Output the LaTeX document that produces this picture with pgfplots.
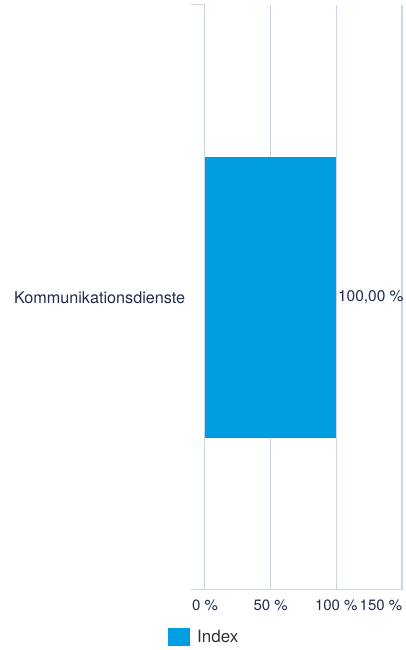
\documentclass[border=0pt]{standalone}
\usepackage{fontspec}
\setmainfont{TeX Gyre Heros}
\usepackage{pgfplots}
\pgfplotsset{compat=1.18}
\definecolor{barblue}{HTML}{009EE0}
\definecolor{gridcol}{HTML}{CAD5E8}
\definecolor{txt}{HTML}{1F2D4F}
\begin{document}
\begin{tikzpicture}
\begin{axis}[
  at={(0,0)}, anchor=south west,
  scale only axis,
  width=197pt, height=585pt,
  xmin=0, xmax=150,
  ymin=-0.5, ymax=0.5,
  xbar, bar width=280pt,
  axis line style={draw=none},
  xtick={0,50,100},
  xticklabels={0 \%, 50 \%, 100 \%},
  extra x ticks={150},
  extra x tick labels={150 \%},
  extra x tick style={xticklabel style={xshift=-21pt}, grid=major},
  xmajorgrids,
  grid style={draw=gridcol, line width=1pt},
  major x tick style={draw=none},
  xticklabel style={font=\fontsize{15}{18}\selectfont, text=txt, yshift=-6pt},
  ytick={0},
  yticklabels={Kommunikationsdienste},
  major y tick style={draw=none},
  yticklabel style={font=\fontsize{16.2}{19}\selectfont, text=txt, xshift=-12pt},
  nodes near coords={\pgfmathprintnumber[fixed,fixed zerofill,precision=2,use comma,assume math mode=true]{\pgfplotspointmeta}~\%},
  every node near coord/.append style={font=\fontsize{15.5}{18}\selectfont, text=txt, anchor=west, inner sep=1.5pt},
  legend style={at={(axis description cs:-0.188,-0.0803)}, anchor=west, draw=none, fill=none, inner sep=0pt, font=\fontsize{17}{20}\selectfont, text=black!80, /tikz/every odd column/.append style={column sep=5pt}},
  legend image code/.code={\fill[barblue] (0pt,-9pt) rectangle (22pt,9pt);},
  clip=false,
]
\addplot[fill=barblue, draw=none] coordinates {(100,0)};
\addlegendentry{Index}
\draw[gridcol, line width=1pt] ([xshift=-14pt]axis cs:0,-0.5) -- (axis cs:150,-0.5);
\draw[gridcol, line width=1pt] ([xshift=-14pt]axis cs:0,0.5) -- (axis cs:0,0.5);
\end{axis}
\pgfresetboundingbox
\path[use as bounding box] (-205pt,-60pt) rectangle (201pt,590pt);
\end{tikzpicture}
\end{document}
